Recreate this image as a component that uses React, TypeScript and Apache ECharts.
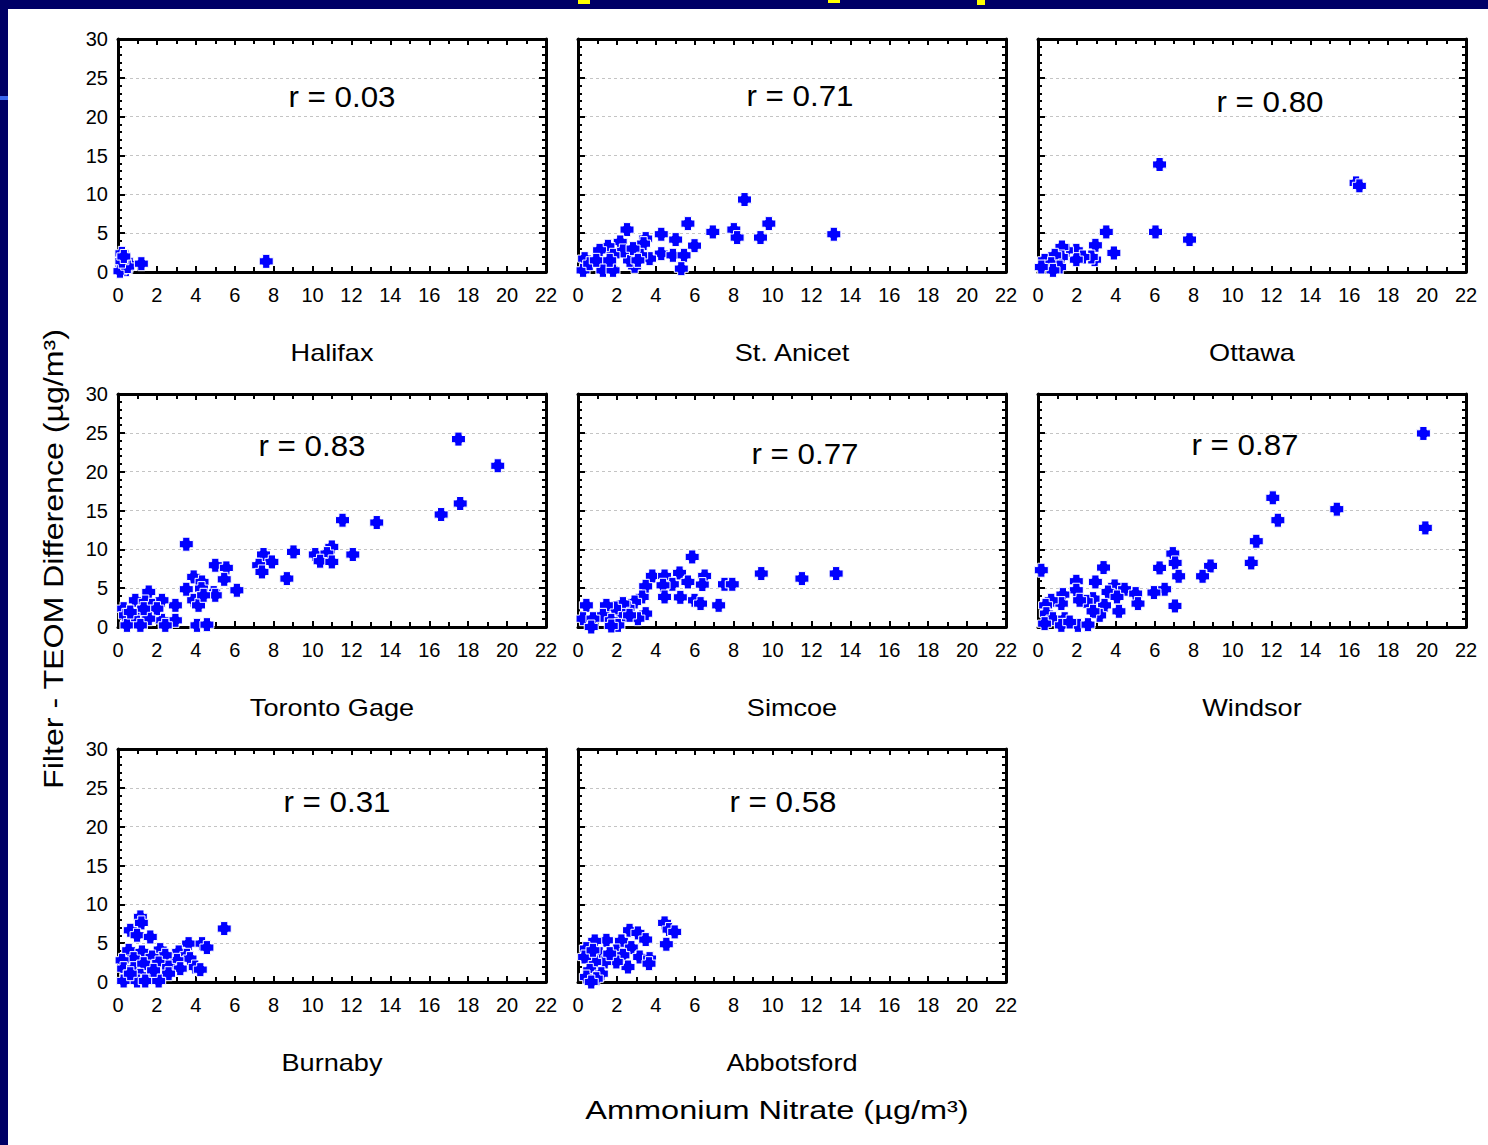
import React, { useEffect, useRef } from "react";
import * as echarts from "echarts";

// ---------- DATA ----------
const siteNames = ["Halifax", "St. Anicet", "Ottawa", "Toronto Gage", "Simcoe", "Windsor", "Burnaby", "Abbotsford"];
const rValues = ["0.03", "0.71", "0.80", "0.83", "0.77", "0.87", "0.31", "0.58"];

const xAxisMin = 0;
const xAxisMax = 22;
const xAxisStep = 2;
const yAxisMin = 0;
const yAxisMax = 30;
const yAxisStep = 5;

const xTitle = "Ammonium Nitrate (µg/m³)";
const yTitle = "Filter - TEOM Difference (µg/m³)";

const halifax = [
  [0.2, 2.4], [0.3, 1.8], [0.4, 1.2], [0.2, 0.5], [0.4, 0.3], [0.1, 0.1], [0.6, 1.0],
  [0.5, 0.7], [0.2, 1.4], [0.3, 2.0], [1.2, 1.07], [7.62, 1.37],
];
const stAnicet = [
  [8.56, 9.33], [9.81, 6.23], [5.65, 6.23], [2.52, 5.46], [6.93, 5.16], [8.01, 5.46], [8.18, 4.43],
  [9.38, 4.43], [13.15, 4.86], [4.28, 4.86], [5.02, 4.17], [3.48, 4.3], [5.99, 3.39], [3.37, 3.65],
  [2.17, 3.87], [4.28, 2.36], [4.88, 2.15], [5.45, 2.15], [5.31, 0.43], [3.68, 1.72], [3.22, 2.15],
  [2.91, 0.73], [2.65, 1.5], [2.31, 2.71], [1.54, 3.31], [1.11, 2.79], [1.8, 2.15], [1.2, 1.07],
  [1.28, 0.21], [1.8, 0.21], [0.34, 1.72], [0.26, 0.21], [0.6, 1.07], [0.94, 1.5], [1.63, 1.5],
  [2.83, 3.01], [3.08, 1.5],
];
const ottawa = [
  [6.25, 13.84], [16.35, 11.47], [16.52, 11.09], [6.04, 5.16], [3.51, 5.16], [7.79, 4.17], [3.9, 2.45],
  [2.95, 3.44], [2.91, 1.59], [2.74, 1.93], [1.97, 2.79], [2.31, 1.93], [1.97, 1.59], [1.46, 2.79],
  [1.23, 3.22], [1.2, 1.93], [0.86, 2.15], [0.34, 1.5], [0.68, 1.07], [1.11, 0.64], [0.77, 0.21],
  [0.17, 0.64],
];
const torontoGage = [
  [17.5, 24.19], [19.52, 20.76], [17.59, 15.9], [16.61, 14.48], [11.54, 13.75], [13.3, 13.45],
  [3.51, 10.66], [9.02, 9.67], [7.48, 9.33], [10.14, 9.33], [12.07, 9.33], [10.99, 10.31],
  [10.74, 9.45], [10.39, 8.47], [10.99, 8.38], [7.91, 8.38], [7.23, 7.95], [7.4, 7.09], [5.0, 7.95],
  [5.57, 7.61], [8.68, 6.23], [5.46, 6.14], [3.89, 6.45], [4.32, 5.8], [6.11, 4.73], [3.51, 4.86],
  [4.92, 4.43], [5.0, 4.08], [4.29, 4.94], [3.89, 3.44], [4.14, 2.79], [4.4, 4.08], [2.95, 2.79],
  [2.95, 0.86], [2.26, 3.44], [2.26, 0.86], [2.43, 0.21], [1.58, 4.51], [0.89, 3.44], [1.4, 3.22],
  [1.75, 2.79], [2.0, 2.36], [1.15, 1.93], [1.58, 1.07], [0.29, 2.36], [0.38, 1.5], [0.8, 1.07],
  [0.46, 0.21], [1.15, 0.21], [4.06, 0.21], [4.57, 0.3], [1.32, 2.36], [0.63, 1.93],
];
const simcoe = [
  [5.87, 9.02], [9.42, 6.88], [11.51, 6.23], [13.27, 6.88], [3.82, 6.57], [4.45, 6.57], [5.22, 6.96],
  [5.65, 5.8], [6.51, 6.57], [6.39, 5.46], [4.85, 5.5], [4.37, 5.37], [7.53, 5.5], [7.93, 5.5],
  [3.48, 5.24], [3.3, 3.87], [4.45, 3.87], [5.26, 3.82], [5.99, 3.44], [6.3, 3.01], [7.23, 2.79],
  [3.48, 1.72], [3.08, 1.07], [2.91, 3.22], [2.57, 2.45], [2.31, 3.01], [2.31, 1.5], [1.88, 2.45],
  [1.46, 2.79], [1.28, 1.5], [1.71, 0.86], [2.05, 0.21], [1.71, 0.13], [0.43, 2.79], [0.26, 1.07],
  [0.77, 1.07], [0.68, 0.0], [2.65, 1.5],
];
const windsor = [
  [19.81, 24.92], [12.07, 16.63], [15.36, 15.17], [12.33, 13.75], [19.91, 12.76], [11.22, 11.04],
  [10.96, 8.25], [6.93, 9.45], [7.05, 8.25], [8.87, 7.86], [7.23, 6.53], [8.46, 6.53], [6.25, 7.61],
  [6.51, 4.86], [5.96, 4.43], [7.04, 2.71], [3.37, 7.65], [0.17, 7.31], [1.97, 5.89], [1.97, 4.73],
  [2.95, 5.8], [3.94, 5.29], [4.45, 4.86], [5.02, 4.3], [5.14, 3.01], [3.6, 4.51], [4.06, 3.87],
  [4.16, 2.02], [3.42, 2.79], [3.17, 1.5], [2.83, 3.65], [2.48, 3.31], [2.14, 3.44], [2.83, 2.02],
  [1.28, 4.17], [1.2, 3.01], [0.68, 3.44], [0.39, 2.79], [0.43, 1.72], [0.77, 1.07], [1.37, 1.07],
  [0.34, 0.43], [1.2, 0.21], [2.05, 0.21], [2.57, 0.3], [1.63, 0.64],
];
const burnaby = [
  [1.15, 8.38], [1.2, 7.61], [0.63, 6.66], [0.98, 6.02], [1.66, 5.8], [5.46, 6.88], [3.63, 4.94],
  [4.32, 4.94], [4.57, 4.43], [0.55, 4.08], [1.23, 3.87], [2.17, 4.17], [3.12, 3.87], [3.54, 3.44],
  [3.7, 3.01], [3.03, 2.79], [2.43, 3.44], [1.75, 3.22], [0.8, 3.01], [0.21, 2.79], [0.29, 1.72],
  [0.8, 1.72], [1.32, 2.36], [2.09, 2.45], [2.6, 1.93], [3.2, 1.72], [3.97, 1.93], [4.23, 1.59],
  [2.6, 1.07], [1.66, 0.86], [1.15, 0.86], [0.46, 0.64], [0.29, 0.13], [0.98, 0.13], [1.4, 0.13],
  [2.09, 0.13], [1.83, 1.5], [0.63, 1.07],
];
const abbotsford = [
  [4.45, 7.61], [4.68, 6.75], [4.97, 6.45], [4.54, 4.86], [2.65, 6.66], [3.08, 6.32], [3.48, 5.46],
  [1.46, 5.37], [2.23, 5.29], [0.86, 5.29], [0.43, 4.3], [1.11, 3.65], [1.97, 4.0], [2.74, 4.43],
  [2.31, 3.44], [3.17, 3.22], [3.68, 3.01], [3.65, 2.36], [2.57, 1.93], [1.97, 2.58], [1.37, 2.58],
  [0.86, 2.58], [0.34, 3.22], [0.6, 1.5], [1.2, 1.07], [0.43, 0.64], [0.94, 0.43], [0.68, 0.0],
  [1.63, 3.65], [0.77, 4.08],
];

const siteData = [halifax, stAnicet, ottawa, torontoGage, simcoe, windsor, burnaby, abbotsford];

// ---------- LAYOUT ----------
const W = 1488;
const H = 1145;
const colLeft = [118, 578, 1038];
const rowTop = [39, 394, 749];
const plotW = 428;
const plotH = 233;
const rLabelPos = [
  [342, 97], [800, 96], [1270, 102],
  [312, 446], [805, 454], [1245, 445],
  [337, 802], [783, 802],
];
const FONT = '"Liberation Sans", Arial, Helvetica, sans-serif';
const MARKER = "path://M2.9,0H9.1V2.9H12V9.1H9.1V12H2.9V9.1H0V2.9H2.9Z";

function buildOption() {
  const grids: any[] = [];
  const xAxes: any[] = [];
  const yAxes: any[] = [];
  const series: any[] = [];
  const graphics: any[] = [];

  const lineStyle = { color: "#000", width: 3 };
  const tickStyle = { color: "#000", width: 2 };

  siteNames.forEach((name, i) => {
    const col = i % 3;
    const row = Math.floor(i / 3);
    const left = colLeft[col];
    const top = rowTop[row];
    grids.push({ left, top, width: plotW, height: plotH, show: false });

    const xBase = {
      gridIndex: i,
      type: "value",
      min: xAxisMin,
      max: xAxisMax,
      interval: xAxisStep,
      axisLine: { show: true, onZero: false, lineStyle },
      axisTick: { show: true, inside: true, length: 6, lineStyle: tickStyle },
      minorTick: { show: true, splitNumber: 2, length: 5, lineStyle: tickStyle },
      splitLine: { show: false },
      minorSplitLine: { show: false },
    };
    xAxes.push({
      ...xBase,
      position: "bottom",
      axisLabel: {
        show: true,
        margin: 13,
        fontSize: 20,
        fontFamily: FONT,
        color: "#000",
        showMinLabel: true,
        showMaxLabel: true,
      },
    });
    xAxes.push({ ...xBase, position: "top", axisLabel: { show: false } });

    const yBase = {
      gridIndex: i,
      type: "value",
      min: yAxisMin,
      max: yAxisMax,
      interval: yAxisStep,
      axisLine: { show: true, onZero: false, lineStyle },
      axisTick: { show: true, inside: true, length: 7, lineStyle: tickStyle },
      minorTick: { show: true, splitNumber: 5, length: 4, lineStyle: tickStyle },
      minorSplitLine: { show: false },
    };
    yAxes.push({
      ...yBase,
      position: "left",
      axisLabel: {
        show: col === 0,
        margin: 10,
        fontSize: 20,
        fontFamily: FONT,
        color: "#000",
        showMinLabel: true,
        showMaxLabel: true,
      },
      splitLine: { show: true, lineStyle: { color: "#c4c4c4", width: 1, type: [3, 3] } },
    });
    yAxes.push({ ...yBase, position: "right", axisLabel: { show: false }, splitLine: { show: false } });

    series.push({
      type: "scatter",
      xAxisIndex: i * 2,
      yAxisIndex: i * 2,
      data: siteData[i],
      symbol: MARKER,
      symbolSize: 14,
      itemStyle: { color: "#0000ff", borderColor: "#ffffff", borderWidth: 1, opacity: 1 },
      silent: true,
      z: 5,
    });

    graphics.push({
      type: "text",
      x: rLabelPos[i][0],
      y: rLabelPos[i][1],
      scaleX: 1.08,
      z: 10,
      style: {
        text: `r = ${rValues[i]}`,
        fontSize: 29,
        fontFamily: FONT,
        fill: "#000",
        textAlign: "center",
        textVerticalAlign: "middle",
      },
    });
    graphics.push({
      type: "text",
      x: left + plotW / 2,
      y: top + plotH + 81,
      scaleX: 1.13,
      z: 10,
      style: {
        text: name,
        fontSize: 24,
        fontFamily: FONT,
        fill: "#000",
        textAlign: "center",
        textVerticalAlign: "middle",
      },
    });
  });

  graphics.push({
    type: "text",
    x: 777,
    y: 1110,
    scaleX: 1.25,
    z: 10,
    style: {
      text: xTitle,
      fontSize: 26,
      fontFamily: FONT,
      fill: "#000",
      textAlign: "center",
      textVerticalAlign: "middle",
    },
  });
  graphics.push({
    type: "text",
    x: 53,
    y: 559,
    rotation: Math.PI / 2,
    scaleX: 1.19,
    z: 10,
    style: {
      text: yTitle,
      fontSize: 27,
      fontFamily: FONT,
      fill: "#000",
      textAlign: "center",
      textVerticalAlign: "middle",
    },
  });

  return {
    animation: false,
    backgroundColor: "transparent",
    grid: grids,
    xAxis: xAxes,
    yAxis: yAxes,
    series,
    graphic: graphics,
  };
}

export default function App() {
  const ref = useRef<HTMLDivElement | null>(null);
  useEffect(() => {
    if (!ref.current) return;
    const chart = echarts.init(ref.current, undefined, { renderer: "svg", width: W, height: H });
    chart.setOption(buildOption() as any);
    return () => chart.dispose();
  }, []);

  return (
    <div style={{ position: "absolute", left: 0, top: 0, width: W, height: H, background: "#000066", overflow: "hidden" }}>
      <div style={{ position: "absolute", left: 8, top: 9, width: W - 8, height: H - 9, background: "#ffffff" }} />
      <div style={{ position: "absolute", left: 0, top: 96, width: 8, height: 4, background: "#3a66ee" }} />
      <div style={{ position: "absolute", left: 578, top: 0, width: 12, height: 4, background: "#ffff00" }} />
      <div style={{ position: "absolute", left: 828, top: 0, width: 12, height: 3, background: "#ffff00" }} />
      <div style={{ position: "absolute", left: 977, top: 0, width: 8, height: 5, background: "#ffff00" }} />
      <div ref={ref} style={{ position: "absolute", left: 0, top: 0, width: W, height: H }} />
    </div>
  );
}
